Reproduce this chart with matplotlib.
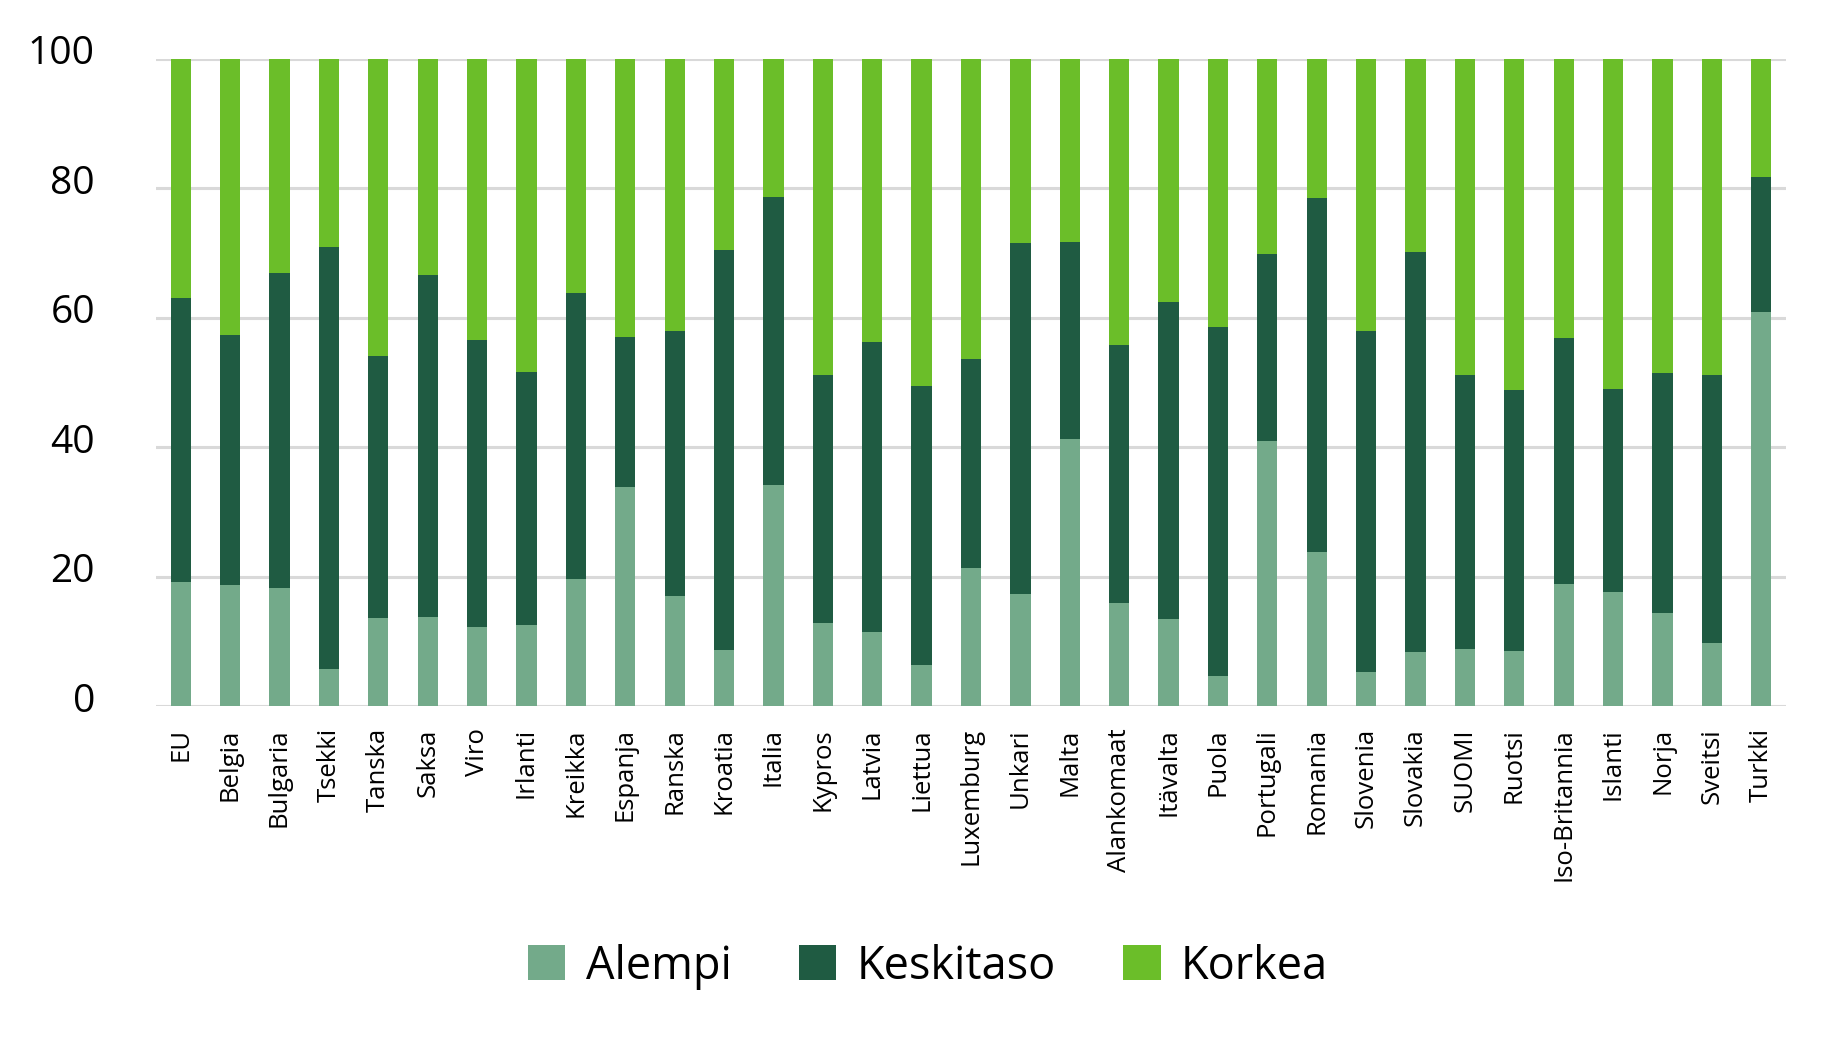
import numpy as np
import matplotlib.pyplot as plt
import matplotlib.transforms as mtrans

plt.rcParams['font.family'] = ['Open Sans', 'DejaVu Sans']

maat = ["EU", "Belgia", "Bulgaria", "Tsekki", "Tanska", "Saksa", "Viro", "Irlanti",
        "Kreikka", "Espanja", "Ranska", "Kroatia", "Italia", "Kypros", "Latvia",
        "Liettua", "Luxemburg", "Unkari", "Malta", "Alankomaat", "Itävalta", "Puola",
        "Portugali", "Romania", "Slovenia", "Slovakia", "SUOMI", "Ruotsi",
        "Iso-Britannia", "Islanti", "Norja", "Sveitsi", "Turkki"]

# osuudet (%), alempi ja alempi+keskitaso luettu kuvasta
alempi = [19.1, 18.7, 18.2, 5.7, 13.6, 13.8, 12.2, 12.5, 19.7, 33.8, 17.0, 8.6, 34.1,
          12.9, 11.5, 6.3, 21.4, 17.3, 41.2, 15.9, 13.4, 4.6, 41.0, 23.8, 5.2, 8.3,
          8.8, 8.5, 18.8, 17.6, 14.3, 9.7, 60.9]
kumul = [63.0, 57.3, 67.0, 71.0, 54.1, 66.6, 56.5, 51.7, 63.9, 57.1, 57.9, 70.5, 78.7,
         51.1, 56.3, 49.4, 53.7, 71.6, 71.7, 55.8, 62.5, 58.6, 69.9, 78.5, 57.9, 70.2,
         51.2, 48.9, 56.9, 49.0, 51.4, 51.1, 81.8]

alempi = np.array(alempi)
keskitaso = np.array(kumul) - alempi
korkea = 100 - np.array(kumul)

c_alempi = "#73aa8a"
c_keski = "#1f5b42"
c_korkea = "#6bbe29"

fig = plt.figure(figsize=(18.27, 10.54), dpi=100)
ax = fig.add_axes([156 / 1827, 1 - 706 / 1054, (1786 - 156) / 1827, (706 - 59) / 1054])

x = np.arange(len(maat))
w = 0.41
ax.bar(x, alempi, w, color=c_alempi, label="Alempi", zorder=3)
ax.bar(x, keskitaso, w, bottom=alempi, color=c_keski, label="Keskitaso", zorder=3)
ax.bar(x, korkea, w, bottom=alempi + keskitaso, color=c_korkea, label="Korkea", zorder=3)

ax.set_xlim(-0.5, len(maat) - 0.5)
ax.set_ylim(0, 100)
ax.set_yticks([0, 20, 40, 60, 80, 100])
ax.grid(axis="y", color="#d9d9d9", linewidth=2.2, zorder=0)
ax.set_axisbelow(True)
for s in ax.spines.values():
    s.set_visible(False)

ax.set_xticks(x)
ax.set_xticklabels(maat, rotation=90, fontsize=18.5)
ax.tick_params(axis="x", length=0, pad=16)
ax.tick_params(axis="y", length=0, pad=44, labelsize=28)
# y-arvot hieman viivan yläpuolelle kuten alkuperäisessä
shift = mtrans.ScaledTranslation(0, 9 / 100, fig.dpi_scale_trans)
for t in ax.get_yticklabels():
    t.set_transform(t.get_transform() + shift)

fig.legend(loc="center", bbox_to_anchor=(0.508, 0.083), ncol=3, frameon=False,
           fontsize=32.5, handlelength=0.82, handleheight=0.82, handletextpad=0.45,
           columnspacing=1.5)

fig.savefig("out.png", dpi=100)
